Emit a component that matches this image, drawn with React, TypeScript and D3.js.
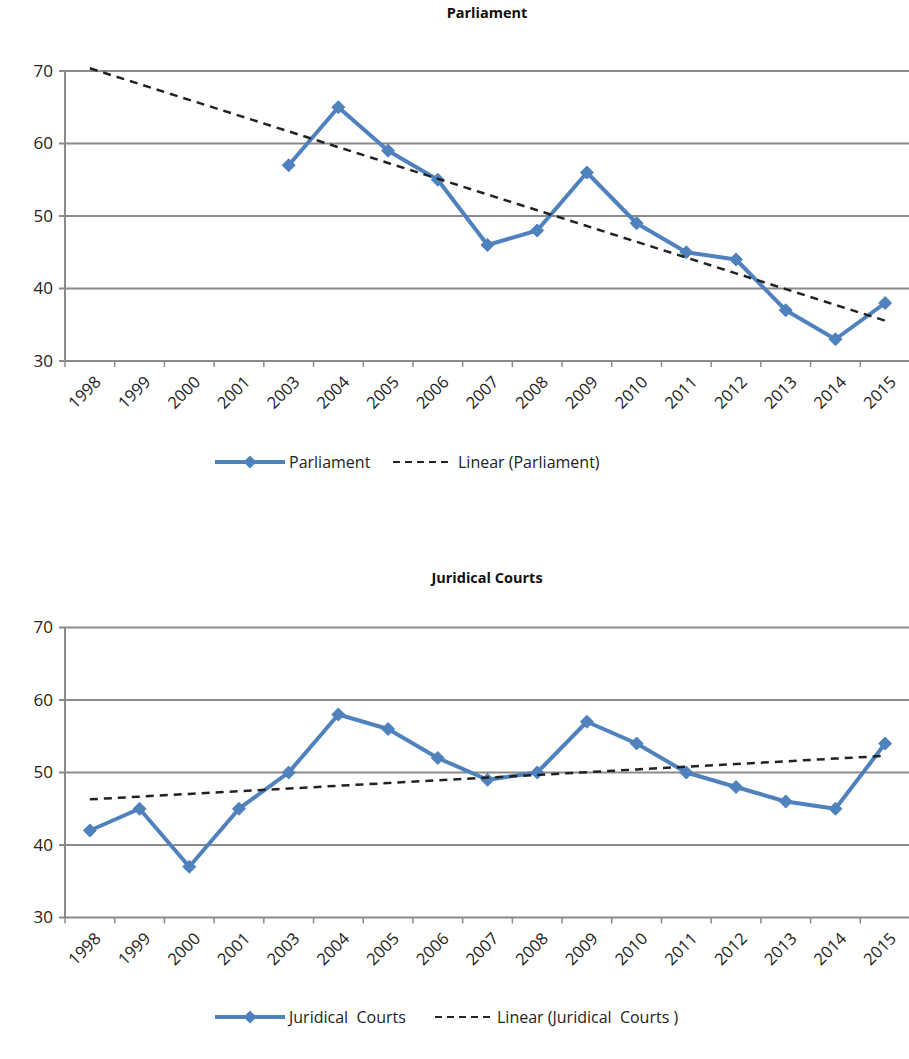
import React from "react";
import * as d3 from "d3";

const years = ["1998","1999","2000","2001","2003","2004","2005","2006","2007","2008","2009","2010","2011","2012","2013","2014","2015"];
const parliament: (number | null)[] = [null, null, null, null, 57, 65, 59, 55, 46, 48, 56, 49, 45, 44, 37, 33, 38];
const courts: (number | null)[] = [42, 45, 37, 45, 50, 58, 56, 52, 49, 50, 57, 54, 50, 48, 46, 45, 54];
const yTicks = [30, 40, 50, 60, 70];

const W = 909;
const H = 1059;
const FONT = "'Open Sans', 'Liberation Sans', sans-serif";
const BLUE = "#4f81bd";

function linearFit(vals: (number | null)[]) {
  const pts = vals.map((v, i) => ({ x: i + 1, y: v })).filter(p => p.y != null) as { x: number; y: number }[];
  const mx = d3.mean(pts, p => p.x)!;
  const my = d3.mean(pts, p => p.y)!;
  const sxy = d3.sum(pts, p => (p.x - mx) * (p.y - my));
  const sxx = d3.sum(pts, p => (p.x - mx) * (p.x - mx));
  const b = sxy / sxx;
  const a = my - b * mx;
  return (x: number) => a + b * x;
}

const diamond = "M0,-6.5L6.5,0L0,6.5L-6.5,0Z";

function Chart({ title, values, top, bottom, titleY, legendY, name, trendName, leg }: {
  title: string; values: (number | null)[]; top: number; bottom: number; titleY: number; legendY: number; name: string; trendName: string; leg: number[];
}) {
  const x = d3.scaleBand<string>().domain(years).range([65, 910]).paddingInner(0).paddingOuter(0);
  const y = d3.scaleLinear().domain([30, 70]).range([bottom, top]);
  const cx = (i: number) => x(years[i])! + x.bandwidth() / 2;
  const line = d3.line<number | null>()
    .defined(d => d != null)
    .x((_, i) => cx(i))
    .y(d => y(d as number));
  const fit = linearFit(values);
  const trend = d3.line<string>().x((_, i) => cx(i)).y((_, i) => y(fit(i + 1)));
  const bands = [...years.map(yr => x(yr)!), 910];
  return (
    <g>
      <text x={487} y={titleY} textAnchor="middle" fontFamily={FONT} fontWeight="bold" fontSize={14.5} fill="#111">{title}</text>
      {yTicks.map(t => (
        <g key={t}>
          <line x1={59} x2={910} y1={y(t)} y2={y(t)} stroke="#8a8a8a" strokeWidth={2} />
          <text x={53} y={y(t)} dy="0.35em" textAnchor="end" fontFamily={FONT} fontSize={17} fill="#222">{t}</text>
        </g>
      ))}
      <line x1={65} x2={65} y1={top} y2={bottom} stroke="#8a8a8a" strokeWidth={2} />
      {bands.map((bx, i) => (
        <line key={i} x1={bx} x2={bx} y1={bottom} y2={bottom + 6} stroke="#8a8a8a" strokeWidth={1.5} />
      ))}
      {years.map((yr, i) => (
        <text key={yr} transform={`translate(${cx(i) + 8},${bottom + 18}) rotate(-45)`} textAnchor="end" dy="0.35em" fontFamily={FONT} fontSize={16.5} fill="#222">{yr}</text>
      ))}
      <path d={line(values)!} fill="none" stroke={BLUE} strokeWidth={4} strokeLinejoin="round" />
      {values.map((v, i) => v == null ? null : (
        <path key={i} d={diamond} transform={`translate(${cx(i)},${y(v)})`} fill={BLUE} stroke={BLUE} strokeWidth={1} />
      ))}
      <path d={trend(years)!} fill="none" stroke="#222" strokeWidth={2.5} strokeDasharray="8,6" />
      <g fontFamily={FONT} fontSize={16} fill="#222">
        <line x1={215} x2={285} y1={legendY} y2={legendY} stroke={BLUE} strokeWidth={4} />
        <path d={diamond} transform={`translate(250,${legendY})`} fill={BLUE} />
        <text x={289} y={legendY} dy="0.35em" style={{ whiteSpace: "pre" }}>{name}</text>
        <line x1={leg[0]} x2={leg[1]} y1={legendY} y2={legendY} stroke="#222" strokeWidth={2} strokeDasharray="7,5" />
        <text x={leg[2]} y={legendY} dy="0.35em" style={{ whiteSpace: "pre" }}>{trendName}</text>
      </g>
    </g>
  );
}

export default function App() {
  return (
    <svg width={W} height={H} style={{ display: "block", position: "absolute", left: 0, top: 0, background: "#fff" }}>
      <rect width={W} height={H} fill="#fff" />
      <Chart title="Parliament" values={parliament} top={71} bottom={361} titleY={18} legendY={462} name="Parliament" trendName="Linear (Parliament)" leg={[393, 450, 458]} />
      <Chart title="Juridical Courts" values={courts} top={627.5} bottom={917.5} titleY={583} legendY={1017} name="Juridical  Courts" trendName="Linear (Juridical  Courts )" leg={[435, 490, 497]} />
    </svg>
  );
}
